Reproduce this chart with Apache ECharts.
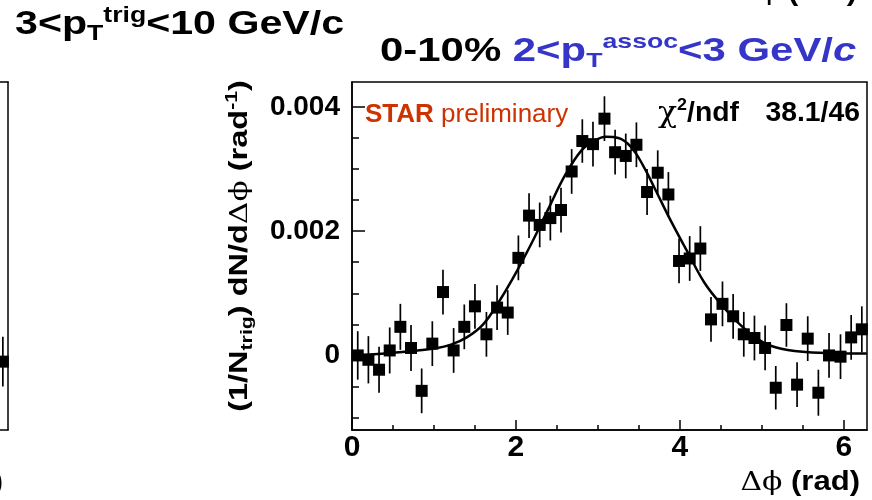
<!DOCTYPE html>
<html>
<head>
<meta charset="utf-8">
<title>0-10% dihadron correlation</title>
<script src="https://cdn.jsdelivr.net/npm/echarts@6/dist/echarts.min.js"></script>
<style>
    html, body { margin: 0; padding: 0; background: #fff; }
    #chart { width: 872px; height: 500px; }
</style>
</head>
<body>
<div id="chart"></div>
<script>
// bin centres (rad) and yields, yields in units of 1e-3
var dphi = [0.07, 0.20, 0.33, 0.46, 0.59, 0.72, 0.85, 0.98, 1.11, 1.24, 1.37, 1.50,
    1.64, 1.77, 1.90, 2.03, 2.16, 2.29, 2.42, 2.55, 2.68, 2.81, 2.94, 3.08,
    3.21, 3.34, 3.47, 3.60, 3.73, 3.86, 3.99, 4.12, 4.25, 4.38, 4.52, 4.65,
    4.78, 4.91, 5.04, 5.17, 5.30, 5.43, 5.56, 5.69, 5.82, 5.96, 6.09, 6.22];
var yieldVals = [0.00, -0.07, -0.23, 0.08, 0.46, 0.12, -0.57, 0.19, 1.02, 0.08, 0.46, 0.79,
    0.34, 0.77, 0.69, 1.57, 2.25, 2.10, 2.21, 2.34, 2.96, 3.45, 3.40, 3.81,
    3.27, 3.21, 3.39, 2.63, 2.94, 2.59, 1.52, 1.56, 1.72, 0.58, 0.83, 0.63,
    0.34, 0.28, 0.12, -0.52, 0.49, -0.47, 0.27, -0.60, 0.00, -0.02, 0.29, 0.42];
var yieldErr = [0.39, 0.38, 0.37, 0.37, 0.37, 0.37, 0.36, 0.36, 0.36, 0.36, 0.36, 0.36,
    0.36, 0.36, 0.36, 0.36, 0.36, 0.36, 0.36, 0.36, 0.36, 0.35, 0.36, 0.36,
    0.36, 0.36, 0.36, 0.37, 0.36, 0.36, 0.36, 0.36, 0.36, 0.36, 0.36, 0.36,
    0.36, 0.36, 0.36, 0.35, 0.35, 0.36, 0.36, 0.37, 0.36, 0.36, 0.36, 0.37];

// fit curve at a few places
var fitPhi = [0, 0.4, 0.8, 1.0, 1.2, 1.4, 1.6, 1.8, 2.0, 2.2, 2.4, 2.6, 2.8, 2.95,
    3.1, 3.25, 3.4, 3.55, 3.7, 3.9, 4.1, 4.3, 4.5, 4.7, 4.9, 5.1, 5.4, 5.8, 6.28];
var fitVals = [0.00, 0.03, 0.08, 0.11, 0.17, 0.29, 0.50, 0.88, 1.33, 1.83, 2.37, 2.90, 3.30, 3.45,
    3.52, 3.50, 3.36, 3.06, 2.67, 2.14, 1.65, 1.17, 0.83, 0.54, 0.31, 0.16, 0.07, 0.04, 0.03];

// neighbour panel on the left, only its last point shows
var leftPhi = [6.22];
var leftVals = [-0.10];
var leftErr = [0.40];

var xMajor = [0, 2, 4, 6];
var xMinor = [0.5, 1, 1.5, 2.5, 3, 3.5, 4.5, 5, 5.5];
var yMajor = [0, 2, 4];
var yMinor = [-1, -0.5, 0.5, 1, 1.5, 2.5, 3, 3.5];

var SANS = 'Liberation Sans, Arial, Helvetica, sans-serif';
var SERIF = 'DejaVu Serif, Liberation Serif, serif';
var BLUE = '#3535c8';
var RED = '#cc3300';
var DPHI = 'Δϕ';

var points = dphi.map(function (x, i) { return [x, yieldVals[i], yieldErr[i]]; });
var leftPoints = leftPhi.map(function (x, i) { return [x, leftVals[i], leftErr[i]]; });

function errBar(params, api) {
    var x = api.value(0), y = api.value(1), e = api.value(2);
    var a = api.coord([x, y + e]);
    var b = api.coord([x, y - e]);
    return {
        type: 'line',
        shape: { x1: a[0], y1: a[1], x2: b[0], y2: b[1] },
        style: { stroke: '#000', lineWidth: 1.7 }
    };
}

function txt(x, y, text, rich, opt) {
    var el = {
        type: 'text', x: x, y: y, z: 100,
        style: {
            text: text, rich: rich,
            align: opt.align || 'left', textAlign: opt.align || 'left',
            verticalAlign: 'middle', textVerticalAlign: 'middle'
        }
    };
    if (opt.scaleX) el.scaleX = opt.scaleX;
    if (opt.rotation) el.rotation = opt.rotation;
    return el;
}

function tp(size, weight, color, lh, va, family, style) {
    var o = { fontSize: size, fontWeight: weight, fill: color, fontFamily: family || SANS };
    if (lh) o.lineHeight = lh;
    if (va) o.verticalAlign = va;
    if (style) o.fontStyle = style;
    return o;
}

var myChart = echarts.init(document.getElementById('chart'));

var axisBlack = { color: '#000', width: 1.5 };
var lineOn = { show: true, onZero: false, lineStyle: axisBlack };
var lineOff = { show: false, onZero: false };
var bareAxis = { axisTick: { show: false }, axisLabel: { show: false }, splitLine: { show: false } };

myChart.setOption({
    animation: false,
    backgroundColor: '#fff',
    grid: [
        { left: 352, top: 82, width: 515, height: 348, show: true, borderColor: '#000', borderWidth: 1.5, backgroundColor: 'transparent' },
        // sliver of the left panel: only its last 8 px are in the picture
        { left: 0, top: 82, width: 8, height: 348, show: false }
    ],
    xAxis: [{
        type: 'value', gridIndex: 0, min: 0, max: 2 * Math.PI, position: 'bottom',
        axisLine: lineOn,
        axisTick: { show: true, inside: true, length: 10, customValues: xMajor, lineStyle: axisBlack },
        axisLabel: {
            show: true, customValues: xMajor, margin: 3,
            color: '#000', fontFamily: SANS, fontWeight: 'bold', fontSize: 30
        },
        splitLine: { show: false }
    }, {
        // minor ticks
        type: 'value', gridIndex: 0, min: 0, max: 2 * Math.PI, position: 'bottom',
        axisLine: lineOff,
        axisTick: { show: true, inside: true, length: 5, customValues: xMinor, lineStyle: axisBlack },
        axisLabel: { show: false },
        splitLine: { show: false }
    }, Object.assign({
        type: 'value', gridIndex: 1, min: 6.185, max: 2 * Math.PI, position: 'bottom',
        axisLine: lineOn
    }, bareAxis), Object.assign({
        type: 'value', gridIndex: 1, min: 6.185, max: 2 * Math.PI, position: 'top',
        axisLine: lineOn
    }, bareAxis)],
    yAxis: [{
        type: 'value', gridIndex: 0, min: -1.2, max: 4.4, position: 'left',
        axisLine: lineOn,
        axisTick: { show: true, inside: true, length: 13, customValues: yMajor, lineStyle: axisBlack },
        axisLabel: {
            show: true, customValues: yMajor, margin: 12,
            color: '#000', fontFamily: SANS, fontWeight: 'bold', fontSize: 28,
            formatter: function (v) { return v === 0 ? '0' : (v / 1000).toFixed(3); }
        },
        splitLine: { show: false }
    }, {
        // minor ticks
        type: 'value', gridIndex: 0, min: -1.2, max: 4.4, position: 'left',
        axisLine: lineOff,
        axisTick: { show: true, inside: true, length: 7, customValues: yMinor, lineStyle: axisBlack },
        axisLabel: { show: false },
        splitLine: { show: false }
    }, Object.assign({
        type: 'value', gridIndex: 1, min: -1.2, max: 4.4, position: 'right',
        axisLine: lineOn
    }, bareAxis)],
    series: [{
        type: 'custom', xAxisIndex: 0, yAxisIndex: 0,
        renderItem: errBar, data: points, encode: { x: 0, y: 1 }, clip: true, z: 2
    }, {
        type: 'scatter', xAxisIndex: 0, yAxisIndex: 0,
        data: points.map(function (p) { return [p[0], p[1]]; }),
        symbol: 'rect', symbolSize: 12,
        itemStyle: { color: '#000', opacity: 1 }, z: 3
    }, {
        type: 'line', xAxisIndex: 0, yAxisIndex: 0,
        data: fitPhi.map(function (x, i) { return [x, fitVals[i]]; }),
        smooth: 0.4, showSymbol: false, symbol: 'none',
        lineStyle: { color: '#000', width: 2.5 }, z: 4
    }, {
        type: 'custom', xAxisIndex: 2, yAxisIndex: 2,
        renderItem: errBar, data: leftPoints, encode: { x: 0, y: 1 }, clip: false, z: 2
    }, {
        type: 'scatter', xAxisIndex: 2, yAxisIndex: 2,
        data: leftPoints.map(function (p) { return [p[0], p[1]]; }),
        symbol: 'rect', symbolSize: 12, clip: true,
        itemStyle: { color: '#000', opacity: 1 }, z: 3
    }],
    graphic: [
        // trigger pT range, top left
        txt(15, 25, '{m|3<p}{sub|T}{sup|trig}{m|<10 GeV/c}', {
            m: tp(34, 'bold', '#000', 40),
            sub: tp(22, 'bold', '#000', 12, 'bottom'),
            sup: tp(22, 'bold', '#000', 24, 'top')
        }, { scaleX: 1.21 }),
        // centrality and associated pT range
        txt(380, 52, '{k|0-10% }{m|2<p}{sub|T}{sup|assoc}{m|<3 GeV/}{i|c}', {
            k: tp(33, 'bold', '#000', 40),
            m: tp(33, 'bold', BLUE, 40),
            i: tp(33, 'bold', BLUE, 40, null, SANS, 'italic'),
            sub: tp(21, 'bold', BLUE, 12, 'bottom'),
            sup: tp(21, 'bold', BLUE, 24, 'top')
        }, { scaleX: 1.27 }),
        // y axis title
        txt(240, 246, '{m|(1/N}{sub|trig}{m|) dN/d}{g|' + DPHI + '}{m| (rad}{sup|-1}{m|)}', {
            m: tp(26, 'bold', '#000', 32),
            g: tp(25, 'normal', '#000', 32, null, SERIF),
            sub: tp(17, 'bold', '#000', 10, 'bottom'),
            sup: tp(17, 'bold', '#000', 18, 'top')
        }, { scaleX: 1.25, rotation: Math.PI / 2, align: 'center' }),
        // x axis title, plus the bits of the neighbouring panels' titles
        txt(860, 483, '{g|' + DPHI + '}{b| (rad)}', {
            g: tp(26, 'normal', '#000', 34, null, SERIF),
            b: tp(27, 'bold', '#000', 34)
        }, { scaleX: 1.15, align: 'right' }),
        txt(857, -7, '{g|' + DPHI + '}{b| (rad)}', {
            g: tp(26, 'normal', '#000', 34, null, SERIF),
            b: tp(27, 'bold', '#000', 34)
        }, { scaleX: 1.15, align: 'right' }),
        txt(3, 483, '{g|' + DPHI + '}{b| (rad)}', {
            g: tp(26, 'normal', '#000', 34, null, SERIF),
            b: tp(27, 'bold', '#000', 34)
        }, { scaleX: 1.15, align: 'right' }),
        // STAR preliminary
        txt(365, 115, '{b|STAR }{n|preliminary}', {
            b: tp(26, 'bold', RED, 32),
            n: tp(26, 'normal', RED, 32)
        }, {}),
        // fit quality
        txt(658, 114, '{chi|χ}{sup|2}{b|/ndf}', {
            chi: tp(30, 'normal', '#000', 34, null, SERIF),
            sup: tp(17, 'bold', '#000', 25, 'top'),
            b: tp(27, 'bold', '#000', 34)
        }, { scaleX: 1.05 }),
        txt(860, 114, '{b|38.1/46}', {
            b: tp(27, 'bold', '#000', 34)
        }, { scaleX: 1.05, align: 'right' })
    ]
});

window.addEventListener('resize', function () {
    myChart.resize();
});
</script>
</body>
</html>
